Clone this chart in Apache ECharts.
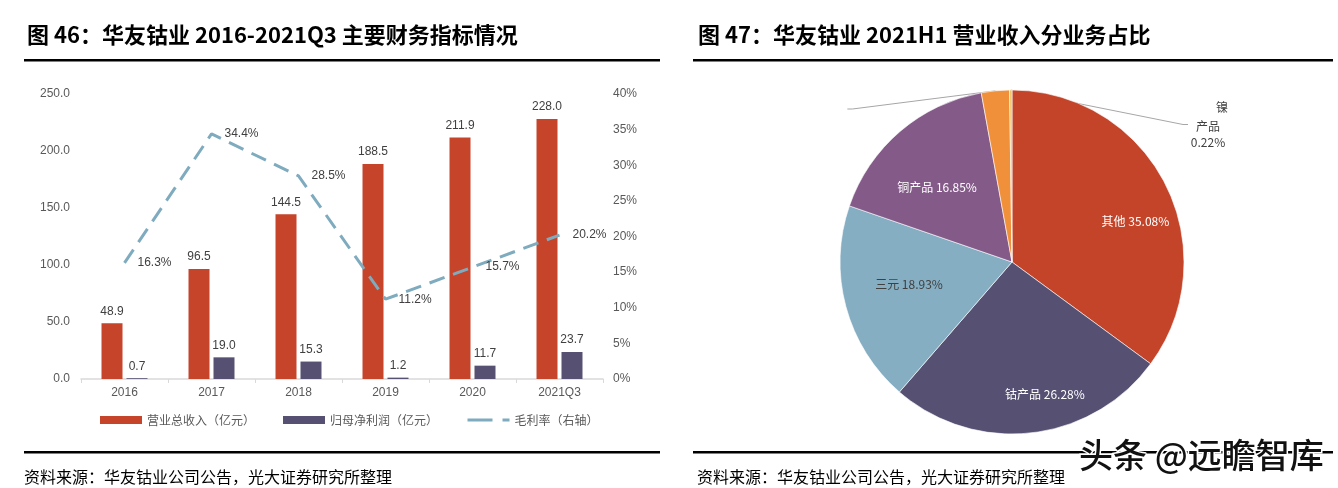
<!DOCTYPE html>
<html><head><meta charset="utf-8">
<script src="https://cdn.jsdelivr.net/npm/echarts@6/dist/echarts.min.js"></script>
<style>html,body{margin:0;padding:0;background:#fff}#c{width:1338px;height:488px}</style>
</head><body><div id="c"></div>
<script>
const categories = ['2016','2017','2018','2019','2020','2021Q3'];
const revenue = [48.9, 96.5, 144.5, 188.5, 211.9, 228.0];
const netProfit = [0.7, 19.0, 15.3, 1.2, 11.7, 23.7];
const grossMargin = [16.3, 34.4, 28.5, 11.2, 15.7, 20.2];
const seriesNames = ['营业总收入（亿元）','归母净利润（亿元）','毛利率（右轴）'];
const pieNames = ['其他','钴产品','三元','铜产品','未标注','镍产品'];
const pieValues = [35.08, 26.28, 18.93, 16.85, 2.64, 0.22];
const leftTicks = [0, 50, 100, 150, 200, 250];
const rightTicks = [0, 5, 10, 15, 20, 25, 30, 35, 40];

const FONT = "'Liberation Sans','Noto Sans CJK SC',sans-serif";
const CJK = "'Noto Sans CJK SC','Liberation Sans',sans-serif";
const chart = echarts.init(document.getElementById('c'), null, {renderer:'canvas'});

const pieColors = ['#C4442A','#565073','#85AEC3','#845A89','#F0903B','#E6C25E'];
const labelColors = ['#fff','#fff','#404040','#fff','#404040','#404040'];
const insideShift = [[44,0],[23,44],[-17,-1],[-17,-7]];
const PIE_C = [1012, 262], PIE_R = 172;
const outsidePos = {4:[PIE_C[0]-166, PIE_C[1]-153], 5:[PIE_C[0]+196, PIE_C[1]-139]};

const option = {
  animation:false,
  textStyle:{fontFamily:FONT},
  title:[
    {text:'图 46：华友钴业 2016-2021Q3 主要财务指标情况', left:22, top:19,
     textStyle:{fontFamily:CJK, fontSize:22, fontWeight:'bold', color:'#000'}},
    {text:'图 47：华友钴业 2021H1 营业收入分业务占比', left:693, top:19,
     textStyle:{fontFamily:CJK, fontSize:22, fontWeight:'bold', color:'#000'}}
  ],
  graphic:[
    {type:'rect', shape:{x:24,y:59,width:636,height:2.5}, style:{fill:'#000'}},
    {type:'rect', shape:{x:693,y:59,width:640,height:2.5}, style:{fill:'#000'}},
    {type:'rect', shape:{x:24,y:451,width:636,height:2.5}, style:{fill:'#000'}},
    {type:'rect', shape:{x:693,y:451,width:640,height:2.5}, style:{fill:'#000'}},
    {type:'text', x:24, y:477, style:{text:'资料来源：华友钴业公司公告，光大证券研究所整理', fontFamily:CJK, fontSize:16, fill:'#000', verticalAlign:'middle'}},
    {type:'text', x:697, y:477, style:{text:'资料来源：华友钴业公司公告，光大证券研究所整理', fontFamily:CJK, fontSize:16, fill:'#000', verticalAlign:'middle'}},
    {type:'text', x:1079, y:455, z:100, style:{text:'头条 @远瞻智库', fontFamily:CJK, fontSize:34, fontWeight:500, fill:'#111', stroke:'#fff', lineWidth:3, verticalAlign:'middle'}}
  ],
  legend:{
    left:95, top:409, itemWidth:42, itemHeight:8, itemGap:28,
    textStyle:{fontFamily:CJK, fontSize:12, color:'#595959'},
    data:[
      {name:seriesNames[0], icon:'rect'},
      {name:seriesNames[1], icon:'rect'},
      {name:seriesNames[2], itemStyle:{opacity:0}, lineStyle:{type:[25,10], width:3, color:'#7FABBF'}}
    ]
  },
  grid:{left:81, right:735, top:94, bottom:109, containLabel:false},
  xAxis:{
    type:'category', data:categories,
    axisLine:{lineStyle:{color:'#D9D9D9', width:1.5}},
    axisTick:{show:true, length:4, lineStyle:{color:'#D9D9D9'}},
    axisLabel:{color:'#595959', fontSize:12, margin:8}
  },
  yAxis:[
    {type:'value', min:leftTicks[0], max:leftTicks[leftTicks.length-1], interval:50,
     axisLine:{show:false}, axisTick:{show:false}, splitLine:{show:false},
     axisLabel:{color:'#595959', fontSize:12, margin:11, formatter:v=>v.toFixed(1)}},
    {type:'value', min:rightTicks[0], max:rightTicks[rightTicks.length-1], interval:5,
     axisLine:{show:false}, axisTick:{show:false}, splitLine:{show:false},
     axisLabel:{color:'#595959', fontSize:12, margin:10, formatter:v=>v+'%'}}
  ],
  series:[
    {name:seriesNames[0], type:'bar', data:revenue, barWidth:21, barGap:'19%',
     itemStyle:{color:'#C5442A'},
     label:{show:true, position:'top', distance:6, color:'#404040', fontSize:12, formatter:p=>p.value.toFixed(1)}},
    {name:seriesNames[1], type:'bar', data:netProfit, barWidth:21,
     itemStyle:{color:'#565073'},
     label:{show:true, position:'top', distance:6, color:'#404040', fontSize:12, formatter:p=>p.value.toFixed(1)}},
    {name:seriesNames[2], type:'line', yAxisIndex:1, data:grossMargin, symbol:'circle', symbolSize:2, showSymbol:true, z:5,
     lineStyle:{color:'#7FABBF', width:3, type:[16,9]},
     itemStyle:{color:'rgba(0,0,0,0)'},
     label:{show:true, position:'right', distance:12, color:'#404040', fontSize:12, formatter:p=>p.value.toFixed(1)+'%'}},
    {type:'pie', center:PIE_C, radius:PIE_R, startAngle:90, clockwise:true,
     data:pieNames.map((n,i)=>({name:n, value:pieValues[i], itemStyle:{color:pieColors[i]},
       label:{color:labelColors[i], position: i>=4 ? 'outside' : 'inside'},
       labelLine:{show: i>=4}})),
     itemStyle:{borderColor:'#fff', borderWidth:0.6},
     label:{show:true, fontSize:12, fontFamily:CJK,
       formatter:p=>{
         if (p.dataIndex===4) return ' ';
         if (p.dataIndex===5) return '{a|镍}\n{b|产品}\n{b|'+p.value.toFixed(2)+'%}';
         return p.name+' '+p.value.toFixed(2)+'%';
       },
       rich:{a:{fontSize:12, fontFamily:CJK, color:'#404040', padding:[0,0,0,28], lineHeight:22},
             b:{fontSize:12, fontFamily:CJK, color:'#404040', lineHeight:16}}
     },
     labelLine:{show:false, length:5, length2:5, smooth:false, lineStyle:{color:'#A6A6A6', width:1}},
     labelLayout:function(p){
       const i = p.dataIndex;
       if (i<4) return {dx:insideShift[i][0], dy:insideShift[i][1]};
       return {x:outsidePos[i][0], y:outsidePos[i][1], align:'center', verticalAlign:'middle'};
     }
    }
  ]
};
chart.setOption(option);
</script></body></html>
